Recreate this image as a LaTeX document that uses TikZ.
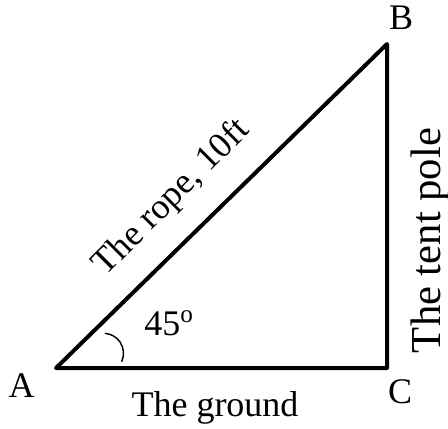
\documentclass[tikz,border=0pt]{standalone}
\usepackage{fontspec}
\setmainfont{Liberation Serif}

\begin{document}
\begin{tikzpicture}[x=0.75pt, y=0.75pt, every node/.style={font=\fontsize{27}{30}\selectfont, inner sep=0pt}]
\useasboundingbox (0,0) rectangle (448,-428);
\coordinate (a) at (56,-368);
\coordinate (b) at (387,-44);
\coordinate (c) at (387,-368);
\coordinate (arcc) at (103.5,-353.3);

\draw[line width=3pt, line join=round] (a)--(b)--(c)--cycle;
\draw[line width=1.1pt] ([shift={(-25:20)}]arcc) arc[start angle=-25, end angle=86, radius=20];

\node (la) [anchor=base] at (21.5,-397) {A};
\node (lb) [anchor=base] at (401,-30) {B};
\node (lc) [anchor=base] at (400,-403) {C};
\node (angle) [anchor=base] at (169,-335) {45\textsuperscript{o}};
\node (ground) [anchor=base] at (215,-416) {The ground};
\node (pole) [rotate=90, anchor=base, font=\fontsize{32}{36}\selectfont] at (440,-240.5) {The tent pole};
\node (rope) [rotate=45] at (172,-198) {The rope, 10ft};
\end{tikzpicture}
\end{document}
